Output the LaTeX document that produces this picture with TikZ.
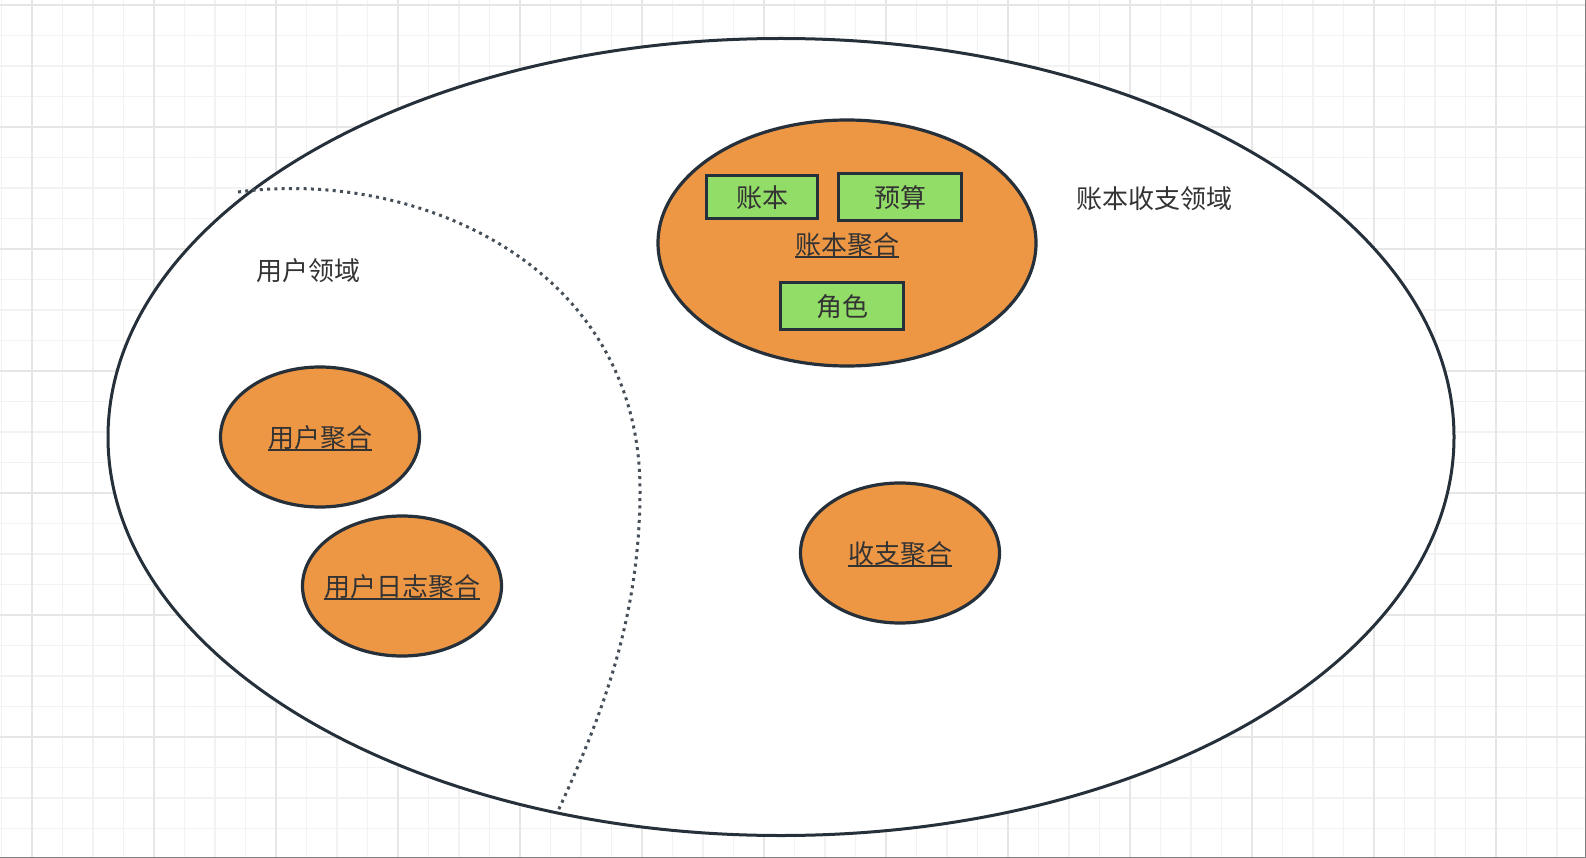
\documentclass[tikz,border=0pt]{standalone}
\usepackage{fontspec}
\setmainfont{Noto Sans CJK SC}
\usetikzlibrary{shapes.geometric}
\definecolor{ink}{HTML}{25303A}
\definecolor{txt}{HTML}{333333}
\definecolor{orangefill}{HTML}{ED9745}
\definecolor{greenfill}{HTML}{92DC68}
\definecolor{gridminor}{HTML}{F2F2F2}
\definecolor{gridmajor}{HTML}{E6E6E6}
\newcommand{\ul}[1]{\setbox0\hbox{#1}\raisebox{-0.5pt}[\ht0][\dp0]{\rlap{\rule[-3.5pt]{\wd0}{1.8pt}}\copy0}}
\newcommand{\dn}[1]{\setbox0\hbox{#1}\raisebox{-0.7pt}[\ht0][\dp0]{\copy0}}
\tikzset{
  domainshape/.style={ellipse,draw=ink,line width=3pt,fill=white,inner sep=0pt},
  aggregate/.style={ellipse,draw=ink,line width=3.2pt,fill=orangefill,inner sep=0pt,inner xsep=-40pt,text=txt,font=\fontsize{26}{30}\selectfont},
  entity/.style={rectangle,draw=ink,line width=3pt,fill=greenfill,inner sep=0pt,text=txt,font=\fontsize{26}{30}\selectfont},
  labeltext/.style={text=txt,inner sep=0pt,font=\fontsize{26}{30}\selectfont},
  boundary/.style={draw=ink!85,line width=3pt,dash pattern=on 3pt off 4.3pt},
  minorline/.style={draw=gridminor,line width=1.5pt},
  majorline/.style={draw=gridmajor,line width=1.6pt}
}
\begin{document}
\begin{tikzpicture}[x=1pt,y=-1pt]
\useasboundingbox (0,0) rectangle (1586,858);
\fill[white] (0,0) rectangle (1586,858);
% grid
\foreach \k in {-1,...,52} {
  \pgfmathsetmacro{\px}{32+30.5*\k}
  \draw[minorline] (\px,0) -- (\px,858);
}
\foreach \k in {0,...,28} {
  \pgfmathsetmacro{\py}{5+30.5*\k}
  \draw[minorline] (0,\py) -- (1586,\py);
}
\foreach \k in {0,...,12} {
  \pgfmathsetmacro{\px}{32+122*\k}
  \draw[majorline] (\px,0) -- (\px,858);
}
\foreach \k in {0,...,7} {
  \pgfmathsetmacro{\py}{5+122*\k}
  \draw[majorline] (0,\py) -- (1586,\py);
}
\draw[gray,line width=1pt] (0,857.5) -- (1585.5,857.5) -- (1585.5,0);
% outer domain
\node[domainshape,minimum width=1346pt,minimum height=797pt] (outer) at (781,437) {};
% boundary
\coordinate (bstart) at (238,192);
\coordinate (bmid) at (640,490);
\coordinate (bend) at (558,811);
\draw[boundary] (bstart) .. controls (420,168) and (640,268) .. (bmid) .. controls (640,620) and (600,720) .. (bend);
% aggregates
\node[aggregate,minimum width=378pt,minimum height=246pt] (acct) at (847,243) {};
\node[labeltext] (acctlabel) at (847,244) {\ul{账本聚合}};
\node[entity,minimum width=111.5pt,minimum height=42.5pt] (book) at (762,197) {\dn{账本}};
\node[entity,minimum width=123.5pt,minimum height=46.5pt] (budget) at (900,197) {\dn{预算}};
\node[entity,minimum width=123.5pt,minimum height=46.5pt] (role) at (842,306) {\dn{角色}};
\node[aggregate,minimum width=199pt,minimum height=140pt] (user) at (320,437) {\ul{用户聚合}};
\node[aggregate,minimum width=199pt,minimum height=140pt] (userlog) at (402,586) {\ul{用户日志聚合}};
\node[aggregate,minimum width=199pt,minimum height=140pt] (flow) at (900,553) {\ul{收支聚合}};
% labels
\node[labeltext] (acctdomain) at (1154,199) {账本收支领域};
\node[labeltext] (userdomain) at (308,271) {用户领域};
\end{tikzpicture}
\end{document}
